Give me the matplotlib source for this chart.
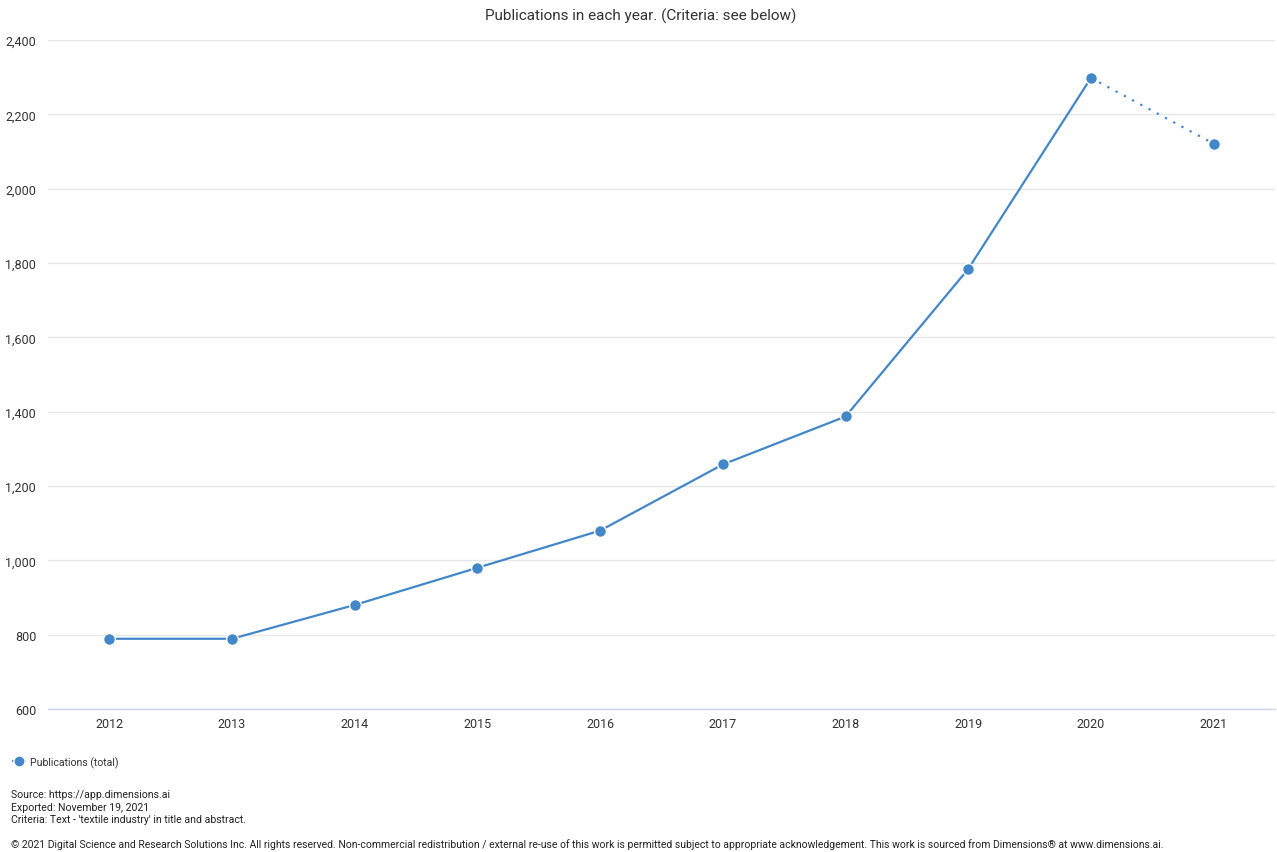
import matplotlib
matplotlib.use("Agg")
import matplotlib.pyplot as plt
from matplotlib.lines import Line2D
from matplotlib.ticker import FuncFormatter

plt.rcParams['font.family'] = ['Roboto', 'DejaVu Sans']

years = ["2012", "2013", "2014", "2015", "2016", "2017", "2018", "2019", "2020", "2021"]
publications = [789, 789, 880, 980, 1080, 1258, 1387, 1784, 2298, 2121]
y_ticks = [600, 800, 1000, 1200, 1400, 1600, 1800, 2000, 2200, 2400]

title = "Publications in each year. (Criteria: see below)"
series_name = "Publications (total)"
footer_lines = [
    "Source: https://app.dimensions.ai",
    "Exported: November 19, 2021",
    "Criteria: Text - 'textile industry' in title and abstract.",
]
copyright_line = ("\u00a9 2021 Digital Science and Research Solutions Inc. All rights reserved. "
                  "Non-commercial redistribution / external re-use of this work is permitted subject to "
                  "appropriate acknowledgement. This work is sourced from Dimensions\u00ae at www.dimensions.ai.")

W, H = 1277, 853
fig = plt.figure(figsize=(W / 100, H / 100), dpi=100)
ax = fig.add_axes([48 / W, 1 - 710 / H, (1275 - 48) / W, (710 - 41) / H])

blue = "#4287c9"
x = list(range(len(years)))

# complete years drawn solid, the current (partial) year dotted
ax.plot(x[:-1], publications[:-1], color=blue, lw=1.6, zorder=3, solid_capstyle='round')
ax.plot(x[-2:], publications[-2:], color=blue, lw=1.6, ls=(0, (1, 3.2)), zorder=3)
ax.plot(x, publications, ls='none', marker='o', ms=8.5, mfc=blue, mec='white', mew=1.0, zorder=4)

ax.set_xlim(-0.5, len(years) - 0.5)
ax.set_ylim(600, 2400)
ax.set_xticks(x)
ax.set_xticklabels(years)
ax.set_yticks(y_ticks)
ax.yaxis.set_major_formatter(FuncFormatter(lambda v, p: f"{int(v):,}"))

ax.grid(axis='y', color='#e6e6e6', lw=1)
ax.set_axisbelow(True)
for side in ['top', 'right', 'left']:
    ax.spines[side].set_visible(False)
ax.spines['bottom'].set_color('#ccd6eb')
ax.spines['bottom'].set_linewidth(1)
ax.tick_params(axis='both', length=0, labelsize=9, colors='#333333')
ax.tick_params(axis='x', pad=6)
ax.tick_params(axis='y', pad=8.5)

fig.text(641 / W, 1 - 16 / H, title, ha='center', va='center', fontsize=11, color='#333333')

handle = Line2D([], [], color=blue, lw=1.6, ls=(0, (1, 2)), marker='o', ms=8, mfc=blue, mec='white', mew=1)
fig.legend([handle], [series_name], loc='center left', bbox_to_anchor=(12 / W, 1 - 763 / H),
           frameon=False, fontsize=7.6, handlelength=1.3, handletextpad=0.45, labelcolor='#333333',
           borderaxespad=0, borderpad=0)

for i, line in enumerate(footer_lines):
    fig.text(11 / W, 1 - (795.5 + i * 12.5) / H, line, ha='left', va='center', fontsize=7.6, color='#222222')
fig.text(11 / W, 1 - 844.5 / H, copyright_line, ha='left', va='center', fontsize=7.5, color='#222222')

fig.savefig("out.png", dpi=100, facecolor='white')
